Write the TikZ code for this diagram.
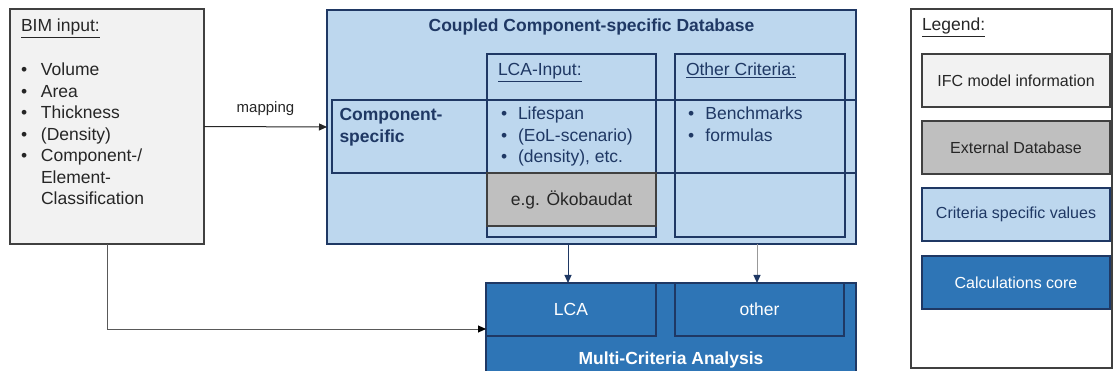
\documentclass[tikz,border=0pt]{standalone}
\usepackage{fontspec}
\setmainfont{Liberation Sans}
\usetikzlibrary{arrows.meta}
\definecolor{lgray}{HTML}{F2F2F2}
\definecolor{mgray}{HTML}{BFBFBF}
\definecolor{lblue}{HTML}{BDD7EE}
\definecolor{dblue}{HTML}{2E75B6}
\definecolor{navy}{HTML}{1F3864}
\definecolor{txt}{HTML}{262626}
\definecolor{edge}{HTML}{404040}
\definecolor{conn}{HTML}{595959}
\newcommand\fmain{\fontsize{17.5}{21.5}\selectfont}
\newcommand\fleg{\fontsize{16}{19}\selectfont}
\newcommand\fmap{\fontsize{15}{18}\selectfont}
\begin{document}
\begin{tikzpicture}[x=1pt,y=-1pt,
  box/.style={draw, line width=1.3pt, outer sep=0pt, inner sep=0pt, anchor=north west},
  graybox/.style={box, draw=edge, fill=lgray},
  extbox/.style={box, draw=edge, fill=mgray},
  bluebox/.style={box, draw=navy, fill=lblue},
  corebox/.style={box, draw=navy, fill=dblue},
  frame/.style={box, draw=navy},
  lbl/.style={inner sep=0pt, outer sep=0pt, font=\fmain},
  arr/.style={line width=1pt, -{Triangle[length=8pt,width=7pt]}},
]
\useasboundingbox (0,0) rectangle (1113,371);

% ---------------- BIM input
\node[graybox, minimum width=194pt, minimum height=235pt] (bim) at (10,9) {};
\node[lbl, anchor=base west, text=txt] (bimt) at (21,32) {\underline{BIM input:}};
\node[lbl, anchor=base west, text=txt] (biml) at (21,76) {\begin{tabular}[t]{@{}l@{}}
\makebox[20pt][l]{•}Volume\\
\makebox[20pt][l]{•}Area\\
\makebox[20pt][l]{•}Thickness\\
\makebox[20pt][l]{•}(Density)\\
\makebox[20pt][l]{•}Component-/\\
\makebox[20pt][l]{}Element-\\
\makebox[20pt][l]{}Classification
\end{tabular}};

% ---------------- Database
\node[bluebox, minimum width=529pt, minimum height=234pt] (db) at (327,10) {};
\node[lbl, anchor=base, text=navy, font=\fmain\bfseries] (dbt) at (591.5,32) {Coupled Component-specific Database};
\node[frame, minimum width=524pt, minimum height=73pt] (row) at (332,100) {};
\node[frame, minimum width=169pt, minimum height=183pt] (lcacol) at (487,54) {};
\node[frame, minimum width=170pt, minimum height=183pt] (othcol) at (675,54) {};
\node[extbox, minimum width=169pt, minimum height=53pt] (oeko) at (487,173) {};
\node[lbl, text=txt] (oekot) at (oeko.center) {e.g. Ökobaudat};

\node[lbl, anchor=base west, text=navy] (lcat) at (498,76) {\underline{LCA-Input:}};
\node[lbl, anchor=base west, text=navy] (otht) at (686,76) {\underline{Other Criteria:}};
\node[lbl, anchor=base west, text=navy, font=\fmain\bfseries] (cst) at (339.5,121) {\begin{tabular}[t]{@{}l@{}}Component-\\specific\end{tabular}};
\node[lbl, anchor=base west, text=navy] (lcal) at (501,120) {\begin{tabular}[t]{@{}l@{}}
\makebox[17pt][l]{•}Lifespan\\
\makebox[17pt][l]{•}(EoL-scenario)\\
\makebox[17pt][l]{•}(density), etc.
\end{tabular}};
\node[lbl, anchor=base west, text=navy] (othl) at (688,120) {\begin{tabular}[t]{@{}l@{}}
\makebox[17.5pt][l]{•}Benchmarks\\
\makebox[17.5pt][l]{•}formulas
\end{tabular}};

% ---------------- Multi-criteria analysis
\node[corebox, minimum width=370pt, minimum height=100pt] (mca) at (486,283) {};
\node[corebox, minimum width=170pt, minimum height=53pt] (lca) at (486,283) {};
\node[corebox, minimum width=169pt, minimum height=53pt] (oth) at (675,283) {};
\node[lbl, text=white] (lcat2) at (lca.center) {LCA};
\node[lbl, text=white] (otht2) at (oth.center) {other};
\node[lbl, anchor=base, text=white, font=\fmain\bfseries] (mcat) at (671,364) {Multi-Criteria Analysis};

% ---------------- connectors
\draw[arr, draw=txt] (bim.east) -- node[lbl, font=\fmap, text=txt, above=11pt] (map) {mapping} (db.west);
\coordinate (a1) at (568,244);
\coordinate (a2) at (757,244);
\draw[arr, draw=navy] (a1) -- (a1 |- lca.north);
\draw[line width=1pt, draw=gray!80, -{Triangle[length=8pt,width=7pt,color=navy]}] (a2) -- (a2 |- oth.north);
\coordinate (mcain) at (486,329);
\draw[arr, draw=conn, -{Triangle[length=8pt,width=7pt,color=black]}] (bim.south) |- (mcain);

% ---------------- Legend
\node[box, draw=edge, minimum width=201pt, minimum height=359pt] (leg) at (911,9) {};
\node[lbl, anchor=base west, text=txt] (legt) at (922,31) {\underline{Legend:}};
\node[graybox, minimum width=188pt, minimum height=53pt] (l1) at (922,54) {};
\node[lbl, font=\fleg, text=txt] at (l1.center) {IFC model information};
\node[extbox, minimum width=188pt, minimum height=53pt] (l2) at (922,121) {};
\node[lbl, font=\fleg, text=txt] at (l2.center) {External Database};
\node[bluebox, minimum width=188pt, minimum height=53pt] (l3) at (922,188) {};
\node[lbl, font=\fleg, text=navy] at (l3.center) {Criteria specific values};
\node[corebox, minimum width=188pt, minimum height=53pt] (l4) at (922,256) {};
\node[lbl, font=\fleg, text=white] at (l4.center) {Calculations core};
\end{tikzpicture}
\end{document}
